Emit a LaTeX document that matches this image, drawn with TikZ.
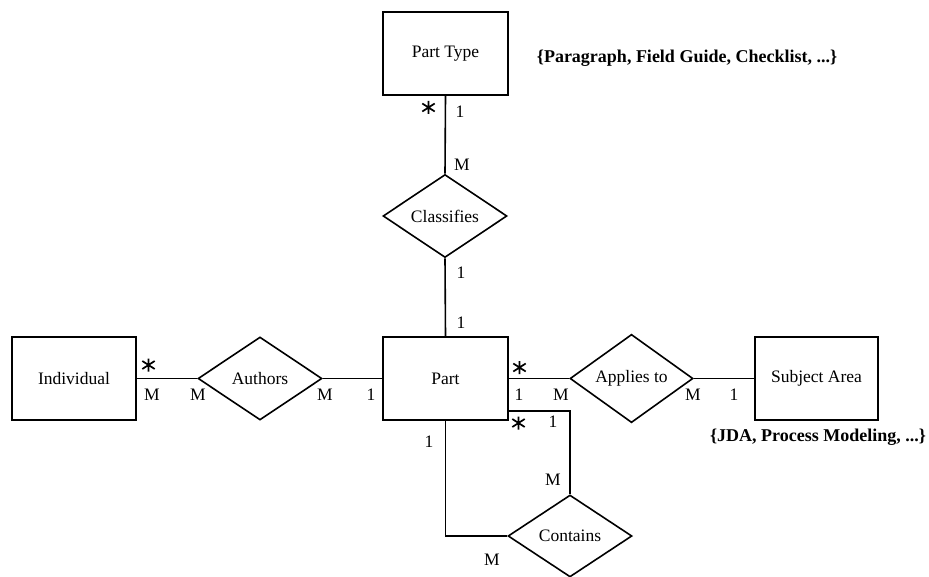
\documentclass[tikz,border=0pt]{standalone}
\usepackage{fontspec}
\setmainfont{Liberation Serif}
\usetikzlibrary{shapes.geometric,calc}
\begin{document}
\begin{tikzpicture}[x=1pt,y=-1pt,
  line width=1.6pt,
  ent/.style={draw,rectangle,minimum width=125pt,minimum height=83pt,inner sep=0pt,font=\fontsize{17.5}{20}\selectfont},
  rel/.style={draw,diamond,minimum width=124pt,minimum height=83pt,inner sep=0pt,font=\fontsize{17.5}{20}\selectfont},
  card/.style={inner sep=0pt,font=\fontsize{17.5}{20}\selectfont},
  note/.style={inner sep=0pt,font=\fontsize{18}{20}\selectfont\bfseries},
  astr/.pic={\draw[line width=1.7pt] (0,-6.5) -- (0,6.5) (-6.2,-4) -- (6.2,4) (-6.2,4) -- (6.2,-4);}
]
\useasboundingbox (0,0) rectangle (929,577);
% entities
\node[ent] (pt) at (445.5,53.5) {Part Type};
\node[ent] (part) at (445.5,378.5) {Part};
\node[ent,minimum width=124pt] (ind) at (74,378.5) {Individual};
\node[ent,minimum width=123pt] (sa) at (816.5,378.5) {Subject Area};
% relationships
\node[rel] (cl) at (445,216) {Classifies};
\node[rel] (au) at (260,378.5) {Authors};
\node[rel,minimum width=123pt] (ap) at (631.5,378.5) {Applies to};
\node[rel,minimum height=82pt] (co) at (570,536) {Contains};
% notes
\node[note] (n1) at (687,58) {\{Paragraph, Field Guide, Checklist, ...\}};
\node[note] (n2) at (818,437) {\{JDA, Process Modeling, ...\}};
% connectors
\draw (pt.south) -- (cl.north);
\draw (cl.south) -- (part.north);
\draw (ind.east) -- (au.west);
\draw (au.east) -- (part.west);
\draw (part.east) -- (ap.west);
\draw (ap.east) -- (sa.west);
\draw (part.south) |- (co.west);
\coordinate (pr) at ($(part.south east)+(0,-10)$);
\draw (pr) -| (co.north);
% cardinalities
\node[card] (c1) at (460,112) {1};
\pic at (428.5,107.5) {astr};
\node[card] (c2) at (462,165) {M};
\node[card] (c3) at (461,273) {1};
\node[card] (c4) at (461,323) {1};
\pic at (148.5,365) {astr};
\node[card] (c5) at (152,395) {M};
\node[card] (c6) at (198,395) {M};
\node[card] (c7) at (325,395) {M};
\node[card] (c8) at (371,395) {1};
\pic at (519.5,367.5) {astr};
\node[card] (c9) at (519,395) {1};
\node[card] (c10) at (561,395) {M};
\node[card] (c11) at (693,395) {M};
\node[card] (c12) at (734,395) {1};
\pic at (518.5,423) {astr};
\node[card] (c13) at (553,422) {1};
\node[card] (c14) at (429,442) {1};
\node[card] (c15) at (553,480) {M};
\node[card] (c16) at (492,560) {M};
\end{tikzpicture}
\end{document}
